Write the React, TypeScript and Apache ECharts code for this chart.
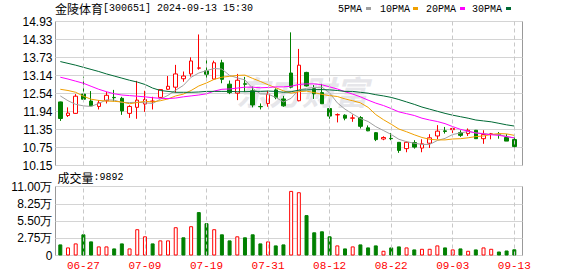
import React, { useEffect, useRef } from 'react';
import * as echarts from 'echarts';

// ---------- data ----------
const dates = [
  '06-24', '06-25', '06-26', '06-27', '06-28',
  '07-01', '07-02', '07-03', '07-04', '07-05', '07-08', '07-09', '07-10', '07-11', '07-12',
  '07-15', '07-16', '07-17', '07-18', '07-19', '07-22', '07-23', '07-24', '07-25', '07-26',
  '07-29', '07-30', '07-31',
  '08-01', '08-02', '08-05', '08-06', '08-07', '08-08', '08-09', '08-12', '08-13', '08-14',
  '08-15', '08-16', '08-19', '08-20', '08-21', '08-22', '08-23', '08-26', '08-27', '08-28',
  '08-29', '08-30',
  '09-02', '09-03', '09-04', '09-05', '09-06', '09-09', '09-10', '09-11', '09-12', '09-13',
];

const opens = [
  12.26, 11.81, 11.88, 12.52, 12.29, 12.11, 12.30, 12.41, 12.38, 11.88,
  12.08, 12.19, 12.27, 12.41, 12.68, 12.75, 13.03, 13.19, 13.38, 13.29,
  13.02, 13.56, 12.85, 12.55, 12.86, 12.63, 12.11, 12.21, 12.66, 12.36,
  13.22, 12.30, 13.24, 12.70, 12.57, 12.04, 11.83, 11.82, 11.72, 11.74,
  11.40, 11.24, 11.03, 11.05, 10.92, 10.71, 10.91, 10.73, 10.89, 11.13,
  11.30, 11.34, 11.24, 11.21, 11.32, 11.04, 11.19, 11.19, 11.08, 11.01,
];
const closes = [
  11.71, 11.89, 12.45, 12.35, 12.13, 12.23, 12.48, 12.40, 11.96, 12.11,
  12.32, 12.34, 12.29, 12.67, 12.78, 13.19, 13.12, 13.62, 13.39, 13.18,
  13.56, 13.01, 12.57, 12.98, 12.85, 12.16, 12.10, 12.52, 12.41, 12.13,
  12.75, 13.48, 12.79, 12.53, 12.20, 11.79, 11.84, 11.72, 11.73, 11.45,
  11.30, 11.01, 11.08, 11.04, 10.65, 10.92, 10.76, 10.87, 11.07, 11.29,
  11.28, 11.38, 11.15, 11.32, 11.04, 11.18, 11.20, 11.18, 10.96, 10.78,
];
const lows = [
  11.63, 11.76, 11.87, 12.32, 12.12, 12.01, 12.21, 12.28, 11.83, 11.73,
  11.70, 11.93, 12.01, 12.39, 12.66, 12.57, 12.93, 13.10, 13.33, 12.96,
  12.99, 12.88, 12.52, 12.32, 12.59, 12.08, 12.01, 12.10, 12.35, 12.10,
  12.71, 12.28, 12.77, 12.36, 12.19, 11.70, 11.58, 11.65, 11.60, 11.38,
  11.29, 10.96, 10.99, 10.99, 10.57, 10.59, 10.71, 10.59, 10.73, 11.02,
  11.21, 11.23, 11.10, 11.13, 11.03, 10.87, 11.02, 11.04, 10.96, 10.74,
];
const highs = [
  12.27, 12.08, 12.52, 13.10, 12.62, 12.32, 12.60, 12.66, 12.43, 12.15,
  12.96, 12.63, 12.43, 12.68, 13.12, 13.49, 13.27, 13.74, 14.50, 13.66,
  13.63, 13.66, 12.97, 13.19, 13.09, 12.77, 12.21, 12.63, 12.71, 12.46,
  14.57, 14.02, 13.26, 12.82, 12.86, 12.08, 11.88, 11.85, 11.84, 11.79,
  11.48, 11.26, 11.12, 11.23, 10.93, 10.95, 10.99, 11.02, 11.19, 11.49,
  11.43, 11.45, 11.32, 11.38, 11.33, 11.32, 11.23, 11.26, 11.19, 11.09,
];

// volume in 万 (10k lots)
const volumes = [
  1.77, 1.29, 1.93, 3.38, 2.25, 1.45, 1.45, 1.13, 1.93, 1.13,
  4.19, 3.06, 1.93, 2.41, 2.41, 4.51, 2.90, 4.67, 6.92, 5.15,
  4.19, 3.38, 2.41, 3.06, 2.90, 3.38, 1.93, 2.25, 1.61, 1.77,
  10.30, 10.09, 6.44, 3.70, 3.86, 3.06, 1.61, 1.13, 1.45, 1.77,
  1.29, 1.61, 0.75, 1.29, 1.45, 1.29, 0.97, 1.07, 1.07, 1.61,
  1.29, 0.97, 1.13, 0.75, 0.97, 1.29, 1.07, 0.64, 0.80, 0.9892,
];
// colour of each volume bar: 1 = red (up), -1 = green (down)
const volDir = [
  -1, 1, 1, -1, -1, 1, 1, -1, -1, 1,
  1, 1, -1, 1, 1, 1, -1, 1, -1, -1,
  1, -1, -1, 1, -1, -1, -1, 1, -1, -1,
  1, 1, -1, -1, -1, -1, 1, -1, 1, -1,
  -1, -1, 1, -1, -1, 1, -1, 1, 1, 1,
  -1, 1, -1, 1, -1, 1, 1, -1, -1, -1,
];

const ma5 = [
  12.46, 12.30, 12.18, 12.13, 12.11, 12.21, 12.33, 12.32, 12.24, 12.24,
  12.25, 12.23, 12.21, 12.35, 12.48, 12.65, 12.81, 13.08, 13.22, 13.30,
  13.37, 13.35, 13.14, 13.06, 12.99, 12.71, 12.53, 12.52, 12.41, 12.26,
  12.38, 12.66, 12.71, 12.74, 12.75, 12.56, 12.23, 12.02, 11.86, 11.71,
  11.61, 11.44, 11.31, 11.18, 11.02, 10.94, 10.89, 10.85, 10.85, 10.98,
  11.05, 11.18, 11.23, 11.28, 11.23, 11.21, 11.18, 11.18, 11.11, 11.06,
];
const ma10 = [
  12.68, 12.64, 12.58, 12.45, 12.35, 12.31, 12.29, 12.28, 12.26, 12.20,
  12.24, 12.28, 12.26, 12.30, 12.36, 12.46, 12.52, 12.64, 12.79, 12.89,
  13.01, 13.08, 13.11, 13.14, 13.15, 13.04, 12.94, 12.83, 12.73, 12.63,
  12.55, 12.60, 12.62, 12.57, 12.51, 12.47, 12.44, 12.36, 12.30, 12.23,
  12.08, 11.84, 11.67, 11.52, 11.36, 11.27, 11.17, 11.08, 11.02, 11.00,
  11.00, 11.03, 11.04, 11.07, 11.11, 11.13, 11.18, 11.21, 11.20, 11.15,
];
const ma20 = [
  13.08, 13.02, 12.95, 12.88, 12.78, 12.68, 12.60, 12.53, 12.49, 12.47,
  12.45, 12.43, 12.40, 12.38, 12.37, 12.39, 12.43, 12.46, 12.49, 12.53,
  12.62, 12.68, 12.69, 12.72, 12.75, 12.75, 12.73, 12.74, 12.76, 12.76,
  12.78, 12.84, 12.86, 12.86, 12.83, 12.76, 12.69, 12.60, 12.52, 12.43,
  12.32, 12.22, 12.14, 12.04, 11.93, 11.87, 11.81, 11.72, 11.66, 11.61,
  11.54, 11.44, 11.35, 11.29, 11.23, 11.20, 11.17, 11.15, 11.11, 11.07,
];
const ma30 = [
  13.60, 13.54, 13.48, 13.41, 13.34, 13.27, 13.19, 13.12, 13.05, 12.98,
  12.92, 12.84, 12.72, 12.64, 12.61, 12.58, 12.58, 12.58, 12.59, 12.61,
  12.61, 12.61, 12.61, 12.60, 12.60, 12.61, 12.61, 12.62, 12.61, 12.58,
  12.60, 12.65, 12.66, 12.67, 12.67, 12.66, 12.64, 12.61, 12.61, 12.58,
  12.55, 12.50, 12.46, 12.41, 12.34, 12.26, 12.18, 12.09, 12.02, 11.95,
  11.88, 11.82, 11.77, 11.72, 11.66, 11.63, 11.60, 11.55, 11.50, 11.46,
];

const priceTickLabels = ['10.15', '10.75', '11.35', '11.94', '12.54', '13.14', '13.73', '14.33', '14.93'];
const volTickLabels = ['0', '2.75万', '5.50万', '8.25万', '11.00万'];
const xLabelDates = ['06-27', '07-09', '07-19', '07-31', '08-12', '08-22', '09-03', '09-13'];

const stockName = '金陵体育';
const stockInfo = '[300651] 2024-09-13 15:30';
const volTitle = '成交量';
const lastVolume = ':9892';
const watermark = '东方财富';

const maNames = ['5PMA', '10PMA', '20PMA', '30PMA'];
const maColors = ['#a0a0a0', '#f0a000', '#ff00ff', '#006a35'];

// ---------- layout ----------
const PRICE_MIN = 10.15;
const PRICE_MAX = 14.93;
const VOL_MAX = 11;
const FRAME_LEFT = 55.5;
const FRAME_WIDTH = 467;
const DATA_LEFT = 56.45;
const DATA_WIDTH = 461.7;
const MAIN_TOP = 21.5;
const MAIN_H = 144;
const VOL_TOP = 186.5;
const VOL_H = 69;
const legendTextX = [338, 380, 426, 472];
const legendRectX = [366, 413, 460, 506];

const RED = '#ff0000';
const GREEN = '#008000';
const MONO = 'Liberation Mono, DejaVu Sans Mono, monospace';
const SANS = 'Liberation Sans, Arial, sans-serif';
const CJK = 'Noto Sans CJK SC, sans-serif';

export default function App() {
  const ref = useRef<HTMLDivElement>(null);

  useEffect(() => {
    if (!ref.current) return;
    const chart = echarts.init(ref.current, undefined, { renderer: 'svg' });

    const dashedMarks = {
      silent: true,
      symbol: ['none', 'none'],
      label: { show: false },
      emphasis: { disabled: true },
      lineStyle: { color: '#c8c8c8', type: [4, 3], width: 1 },
      data: xLabelDates.map((d) => ({ xAxis: d })),
    };

    const legendGraphics: any[] = [];
    maNames.forEach((n, i) => {
      legendGraphics.push({
        type: 'text',
        x: legendTextX[i],
        y: 9,
        style: { text: n, fill: '#000', font: `10px ${MONO}`, textVerticalAlign: 'middle' },
      });
      legendGraphics.push({
        type: 'rect',
        shape: { x: legendRectX[i], y: 7, width: 5, height: 3 },
        style: { fill: maColors[i] },
      });
    });

    const option: any = {
      animation: false,
      backgroundColor: '#fff',
      grid: [
        { left: FRAME_LEFT, top: MAIN_TOP, width: FRAME_WIDTH, height: MAIN_H, show: true, borderColor: '#999', borderWidth: 1, backgroundColor: 'transparent' },
        { left: DATA_LEFT, top: MAIN_TOP, width: DATA_WIDTH, height: MAIN_H },
        { left: FRAME_LEFT, top: VOL_TOP, width: FRAME_WIDTH, height: VOL_H, show: true, borderColor: '#999', borderWidth: 1, backgroundColor: 'transparent' },
        { left: DATA_LEFT, top: VOL_TOP, width: DATA_WIDTH, height: VOL_H },
      ],
      xAxis: [
        { gridIndex: 0, type: 'value', min: 0, max: 1, show: false },
        { gridIndex: 1, type: 'category', data: dates, boundaryGap: true, axisLine: { show: false }, axisTick: { show: false }, axisLabel: { show: false }, splitLine: { show: false } },
        { gridIndex: 2, type: 'value', min: 0, max: 1, show: false },
        {
          gridIndex: 3, type: 'category', data: dates, boundaryGap: true,
          axisLine: { show: false }, axisTick: { show: false }, splitLine: { show: false },
          axisLabel: {
            interval: (_i: number, v: string) => xLabelDates.includes(v),
            color: RED, fontFamily: MONO, fontSize: 11, margin: 5,
          },
        },
      ],
      yAxis: [
        {
          gridIndex: 0, type: 'value', min: 0, max: priceTickLabels.length - 1, interval: 1,
          axisLine: { show: false }, axisTick: { show: false },
          axisLabel: { formatter: (v: number) => priceTickLabels[Math.round(v)], color: '#000', fontFamily: SANS, fontSize: 12, margin: 3 },
          splitLine: { lineStyle: { color: '#d4d4d4', width: 1 } },
        },
        { gridIndex: 1, type: 'value', min: PRICE_MIN, max: PRICE_MAX, show: false, splitLine: { show: false } },
        {
          gridIndex: 2, type: 'value', min: 0, max: volTickLabels.length - 1, interval: 1,
          axisLine: { show: false }, axisTick: { show: false },
          axisLabel: { formatter: (v: number) => volTickLabels[Math.round(v)], color: '#000', fontFamily: SANS, fontSize: 12, margin: 3 },
          splitLine: { lineStyle: { color: '#d4d4d4', width: 1 } },
        },
        { gridIndex: 3, type: 'value', min: 0, max: VOL_MAX, show: false, splitLine: { show: false } },
      ],
      graphic: [
        {
          type: 'text', x: 236, y: 91, z: -10, silent: true,
          style: { text: watermark, fill: '#e6e6ea', font: `italic bold 33px ${CJK}`, textVerticalAlign: 'middle' },
        },
        {
          type: 'text', x: 55, y: 8,
          style: { text: stockName, fill: '#000', font: `12px ${CJK}`, textVerticalAlign: 'middle' },
        },
        {
          type: 'text', x: 103, y: 8.5,
          style: { text: stockInfo, fill: '#000', font: `10px ${MONO}`, textVerticalAlign: 'middle' },
        },
        {
          type: 'text', x: 57.5, y: 177,
          style: { text: volTitle, fill: '#000', font: `12px ${CJK}`, textVerticalAlign: 'middle' },
        },
        {
          type: 'text', x: 93.5, y: 177.5,
          style: { text: lastVolume, fill: '#000', font: `10px ${MONO}`, textVerticalAlign: 'middle' },
        },
        ...legendGraphics,
      ],
      series: [
        {
          type: 'line', xAxisIndex: 1, yAxisIndex: 1, data: [], z: 1,
          markLine: dashedMarks,
        },
        {
          type: 'candlestick', xAxisIndex: 1, yAxisIndex: 1, barWidth: 4, z: 2,
          data: dates.map((_, i) => [opens[i], closes[i], lows[i], highs[i]]),
          itemStyle: { color: '#fff', color0: GREEN, borderColor: RED, borderColor0: GREEN, borderWidth: 1 },
        },
        ...[ma5, ma10, ma20, ma30].map((d, i) => ({
          type: 'line', name: maNames[i], xAxisIndex: 1, yAxisIndex: 1, data: d, z: 3,
          showSymbol: false, symbol: 'none', smooth: false,
          lineStyle: { color: maColors[i], width: 1 },
        })),
        {
          type: 'line', xAxisIndex: 3, yAxisIndex: 3, data: [], z: 1,
          markLine: dashedMarks,
        },
        {
          type: 'bar', xAxisIndex: 3, yAxisIndex: 3, barWidth: 4, z: 2,
          data: volumes.map((v, i) => ({
            value: v,
            itemStyle: volDir[i] > 0
              ? { color: '#fff', borderColor: RED, borderWidth: 1 }
              : { color: GREEN, borderColor: GREEN, borderWidth: 1 },
          })),
        },
      ],
    };

    chart.setOption(option);
    return () => chart.dispose();
  }, []);

  return <div ref={ref} style={{ width: 578, height: 276, position: 'absolute', left: 0, top: 0 }} />;
}
